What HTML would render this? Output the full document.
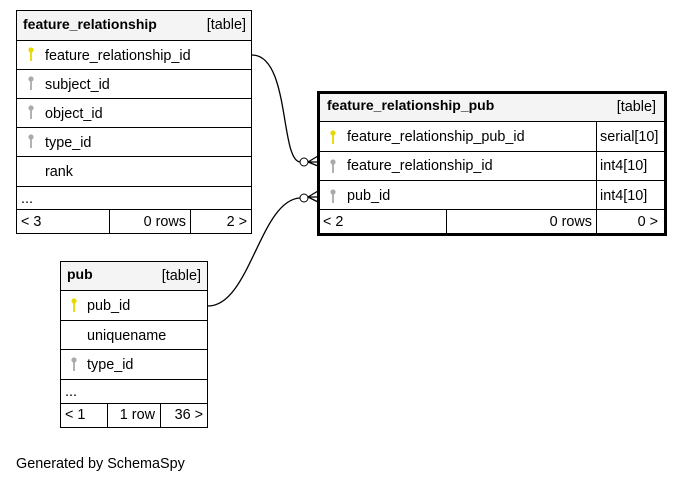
<!DOCTYPE html><html><head><style>body{margin:0;background:#fff}svg{display:block;font-family:"Liberation Sans",Arial,sans-serif}</style></head><body>
<svg width="683" height="483" viewBox="0 0 683 483" xmlns="http://www.w3.org/2000/svg">
<defs>
<g id="ky"><circle cx="0" cy="-3" r="2.6"/><rect x="-0.9" y="-1" width="1.8" height="9"/></g>
</defs>
<g font-size="14.4" fill="#000">
<!-- feature_relationship -->
<rect x="16.5" y="10.5" width="235" height="30" fill="#f4f4f4"/>
<rect x="16.5" y="10.5" width="235" height="223" fill="none" stroke="#000"/>
<g stroke="#000">
<line x1="16" y1="40.5" x2="252" y2="40.5"/><line x1="16" y1="69.5" x2="252" y2="69.5"/><line x1="16" y1="98.5" x2="252" y2="98.5"/><line x1="16" y1="127.5" x2="252" y2="127.5"/><line x1="16" y1="156.5" x2="252" y2="156.5"/><line x1="16" y1="186.5" x2="252" y2="186.5"/><line x1="16" y1="209.5" x2="252" y2="209.5"/>
<line x1="109.5" y1="209" x2="109.5" y2="234"/><line x1="190.5" y1="209" x2="190.5" y2="234"/>
</g>
<text x="23" y="29" font-weight="bold" font-size="14">feature_relationship</text><text x="246" y="29" text-anchor="end">[table]</text>
<use href="#ky" x="31" y="53" fill="#e6d800"/><text x="45" y="60">feature_relationship_id</text>
<use href="#ky" x="31" y="82" fill="#aaa"/><text x="45" y="89">subject_id</text>
<use href="#ky" x="31" y="111" fill="#aaa"/><text x="45" y="118">object_id</text>
<use href="#ky" x="31" y="140" fill="#aaa"/><text x="45" y="147">type_id</text>
<text x="45" y="176">rank</text>
<text x="21" y="203">...</text>
<text x="21" y="226">&lt; 3</text><text x="186" y="226" text-anchor="end">0 rows</text><text x="247" y="226" text-anchor="end">2 &gt;</text>

<!-- feature_relationship_pub -->
<rect x="318.5" y="92.5" width="347" height="29" fill="#f4f4f4"/>
<rect x="318.5" y="92.5" width="347" height="142" fill="none" stroke="#000" stroke-width="3"/>
<g stroke="#000">
<line x1="318" y1="121.5" x2="666" y2="121.5"/><line x1="318" y1="151.5" x2="666" y2="151.5"/><line x1="318" y1="180.5" x2="666" y2="180.5"/><line x1="318" y1="209.5" x2="666" y2="209.5"/>
<line x1="596.5" y1="121" x2="596.5" y2="234"/><line x1="446.5" y1="209" x2="446.5" y2="234"/>
</g>
<text x="327" y="110" font-weight="bold" font-size="14">feature_relationship_pub</text><text x="656" y="111" text-anchor="end">[table]</text>
<use href="#ky" x="333" y="136" fill="#e6d800"/><text x="347" y="141">feature_relationship_pub_id</text><text x="600" y="141">serial[10]</text>
<use href="#ky" x="333" y="165" fill="#aaa"/><text x="347" y="170">feature_relationship_id</text><text x="600" y="170">int4[10]</text>
<use href="#ky" x="333" y="195" fill="#aaa"/><text x="347" y="200">pub_id</text><text x="600" y="200">int4[10]</text>
<text x="323" y="226">&lt; 2</text><text x="592" y="226" text-anchor="end">0 rows</text><text x="658" y="226" text-anchor="end">0 &gt;</text>

<!-- pub -->
<rect x="60.5" y="261.5" width="147" height="29" fill="#f4f4f4"/>
<rect x="60.5" y="261.5" width="147" height="166" fill="none" stroke="#000"/>
<g stroke="#000">
<line x1="60" y1="290.5" x2="208" y2="290.5"/><line x1="60" y1="320.5" x2="208" y2="320.5"/><line x1="60" y1="349.5" x2="208" y2="349.5"/><line x1="60" y1="379.5" x2="208" y2="379.5"/><line x1="60" y1="403.5" x2="208" y2="403.5"/>
<line x1="107.5" y1="403" x2="107.5" y2="428"/><line x1="160.5" y1="403" x2="160.5" y2="428"/>
</g>
<text x="67" y="279" font-weight="bold" font-size="14">pub</text><text x="201" y="280" text-anchor="end">[table]</text>
<use href="#ky" x="74" y="304" fill="#e6d800"/><text x="87" y="310">pub_id</text>
<text x="87" y="340">uniquename</text>
<use href="#ky" x="74" y="363" fill="#aaa"/><text x="87" y="369">type_id</text>
<text x="65" y="396">...</text>
<text x="65" y="419">&lt; 1</text><text x="155" y="419" text-anchor="end">1 row</text><text x="203" y="419" text-anchor="end">36 &gt;</text>

<text x="16" y="468">Generated by SchemaSpy</text>
</g>
<!-- connectors -->
<g fill="none" stroke="#000" stroke-width="1.3">
<path d="M252,55 C290,55 280,160 300,162"/>
<path d="M208,306 C250,306 260,200 300,198"/>
<path d="M308,162 L318,156 M308,162 L318,166 M308,162 L318,162"/>
<path d="M308,197 L318,191 M308,197 L318,202 M308,197 L318,197"/>
</g>
<circle cx="304" cy="162" r="4" fill="#fff" stroke="#000"/>
<circle cx="304" cy="198" r="4" fill="#fff" stroke="#000"/>
</svg>
</body></html>
